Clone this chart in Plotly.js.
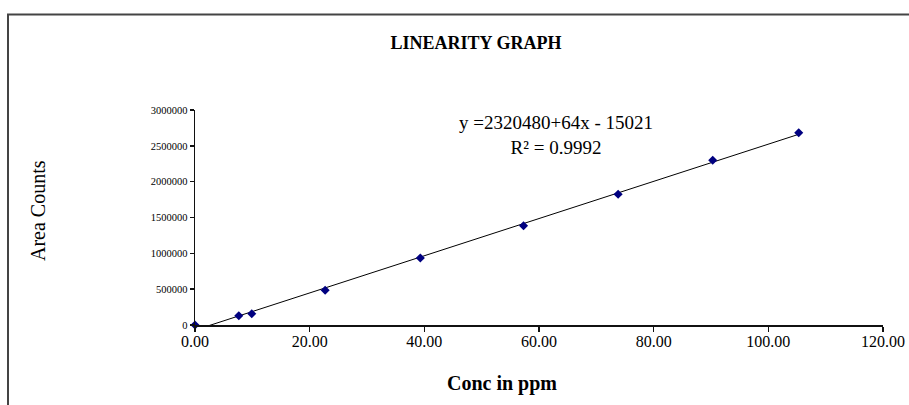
<!DOCTYPE html>
<html>
<head>
<meta charset="utf-8">
<script src="https://cdn.plot.ly/plotly-3.0.1.min.js"></script>
<style>html,body{margin:0;padding:0;background:#fff;}#chart{width:909px;height:405px;}</style>
</head>
<body>
<div id="chart"></div>
<script>
// Data
var concPpm = [0, 7.64, 9.9, 22.7, 39.3, 57.3, 73.8, 90.3, 105.3];
var areaCounts = [0, 130000, 157700, 484000, 934900, 1385600, 1823500, 2298000, 2683000];
var xTickVals = [0, 20, 40, 60, 80, 100, 120];
var yTickVals = [0, 500000, 1000000, 1500000, 2000000, 2500000, 3000000];
var equationText = "y =2320480+64x - 15021<br>R² = 0.9992";

// Least-squares trendline from the data (like the spreadsheet's linear trendline)
function linFit(xs, ys) {
  var n = xs.length, mx = 0, my = 0;
  for (var i = 0; i < n; i++) { mx += xs[i]; my += ys[i]; }
  mx /= n; my /= n;
  var sxy = 0, sxx = 0;
  for (var j = 0; j < n; j++) { sxy += (xs[j]-mx)*(ys[j]-my); sxx += (xs[j]-mx)*(xs[j]-mx); }
  var b = sxy/sxx; return {slope: b, intercept: my - b*mx};
}
var fit = linFit(concPpm, areaCounts);
var trendX = [0, Math.max.apply(null, concPpm)];
var trendY = trendX.map(function (x) { return fit.intercept + fit.slope * x; });

var serif = "Liberation Serif";

var traces = [
  {x: trendX, y: trendY, mode: "lines", type: "scatter",
   line: {color: "#000", width: 1}, hoverinfo: "skip", showlegend: false},
  {x: concPpm, y: areaCounts, mode: "markers", type: "scatter",
   marker: {symbol: "diamond", size: 7, color: "#000080"}, cliponaxis: false, showlegend: false}
];

var layout = {
  width: 909, height: 405,
  margin: {l: 195, r: 26, t: 110, b: 80},
  paper_bgcolor: "#fff", plot_bgcolor: "#fff",
  showlegend: false,
  font: {family: serif, color: "#000"},
  title: {text: "<b>LINEARITY GRAPH</b>", font: {family: serif, size: 18, color: "#000"},
          x: 476/909, xref: "container", xanchor: "center", y: 1 - 43/405, yref: "container", yanchor: "middle"},
  xaxis: {range: [0, 120], tickvals: xTickVals, tickformat: ".2f",
          showgrid: false, zeroline: false, showline: true, linecolor: "#111", linewidth: 1.5,
          ticks: "outside", ticklen: 5, tickwidth: 1.5, tickcolor: "#111", ticklabelstandoff: -4,
          tickfont: {family: serif, size: 16, color: "#000"}, fixedrange: true},
  yaxis: {range: [0, 3000000], tickvals: yTickVals, tickformat: "d",
          showgrid: false, zeroline: false, showline: true, linecolor: "#111", linewidth: 1.5,
          ticks: "outside", ticklen: 4, tickwidth: 1.5, tickcolor: "#111",
          tickfont: {family: serif, size: 10.5, color: "#000"}, fixedrange: true},
  annotations: [
    {text: equationText, xref: "paper", yref: "paper",
     x: (556 - 195)/688, y: 1 - (135 - 110)/215, xanchor: "center", yanchor: "middle",
     showarrow: false, align: "center", font: {family: serif, size: 19, color: "#000"}},
    {text: "<b>Conc in ppm</b>", xref: "paper", yref: "paper",
     x: (502 - 195)/688, y: -(383 - 325)/215, xanchor: "center", yanchor: "middle",
     showarrow: false, font: {family: serif, size: 20, color: "#000"}},
    {text: "Area Counts", xref: "paper", yref: "paper", textangle: -90,
     x: (38 - 195)/688, y: 1 - (211 - 110)/215, xanchor: "center", yanchor: "middle",
     showarrow: false, font: {family: serif, size: 20, color: "#000"}}
  ],
  shapes: [
    {type: "rect", xref: "paper", yref: "paper", layer: "below",
     x0: (8 - 195)/688, x1: (915 - 195)/688, y0: -(415 - 325)/215, y1: 1 + (110 - 14.5)/215,
     line: {color: "#444", width: 2}, fillcolor: "rgba(0,0,0,0)"}
  ]
};

Plotly.newPlot("chart", traces, layout, {staticPlot: true, displayModeBar: false});
</script>
</body>
</html>
